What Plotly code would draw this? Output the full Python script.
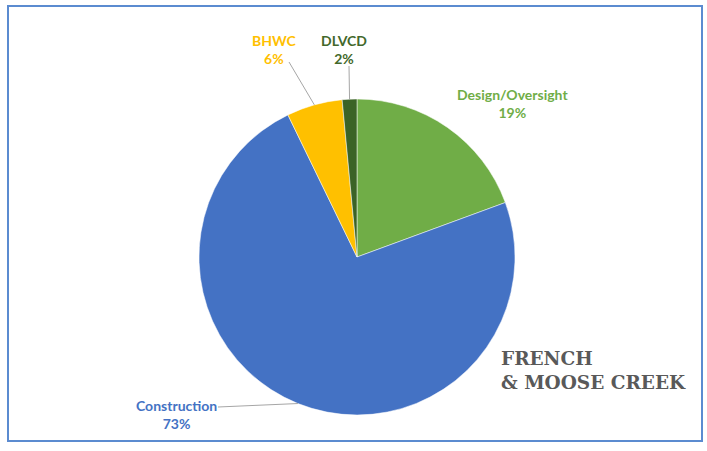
import math
import plotly.graph_objects as go

# Data
categories = ["Design/Oversight", "Construction", "BHWC", "DLVCD"]
values = [19.4, 73.4, 5.7, 1.5]
colors = ["#70AD47", "#4472C4", "#FFC000", "#3B6326"]
label_colors = ["#70AD47", "#4472C4", "#FFC000", "#43682B"]

W, H = 707, 451
CX, CY, R = 357, 257, 158

def px(x):
    return x / W

def py(y):
    return 1 - y / H

fig = go.Figure(go.Pie(
    labels=categories,
    values=values,
    sort=False,
    direction="clockwise",
    rotation=0,
    marker=dict(colors=colors, line=dict(color="white", width=0.5)),
    textinfo="none",
    hoverinfo="label+percent",
    showlegend=False,
    domain=dict(x=[px(CX - R), px(CX + R)], y=[py(CY + R), py(CY - R)]),
))

total = sum(values)
label_pos = {
    "Design/Oversight": (512, 103, False),
    "Construction": (176, 414, True),
    "BHWC": (274, 49, True),
    "DLVCD": (344, 49, True),
}
line_start = {
    "Construction": (218, 407),
    "BHWC": (289, 62),
    "DLVCD": (349, 66),
}

annotations = []
shapes = []
cum = 0.0
for cat, v, col in zip(categories, values, label_colors):
    mid = (cum + v / 2) / total * 2 * math.pi
    cum += v
    lx, ly, has_line = label_pos[cat]
    pct = round(v / total * 100)
    annotations.append(dict(
        x=px(lx), y=py(ly), xref="paper", yref="paper",
        text=f"<b>{cat}<br>{pct}%</b>", showarrow=False,
        font=dict(family="Lato", size=14, color=col),
        xanchor="center", yanchor="middle", align="center",
    ))
    if has_line:
        ex = CX + R * math.sin(mid)
        ey = CY - R * math.cos(mid)
        sx, sy = line_start[cat]
        shapes.append(dict(
            type="line", xref="paper", yref="paper",
            x0=px(sx), y0=py(sy), x1=px(ex), y1=py(ey),
            line=dict(color="#A6A6A6", width=1),
        ))

annotations.append(dict(
    x=px(499), y=py(346), xref="paper", yref="paper",
    text="<b>FRENCH<br>&amp; MOOSE CREEK</b>", showarrow=False,
    font=dict(family="DejaVu Serif", size=18.5, color="#595959"),
    xanchor="left", yanchor="top", align="left",
))

shapes.append(dict(
    type="rect", xref="paper", yref="paper",
    x0=px(8), y0=py(441), x1=px(702), y1=py(6),
    line=dict(color="#5B8BD0", width=2),
))

fig.update_layout(
    width=W, height=H,
    margin=dict(l=0, r=0, t=0, b=0),
    paper_bgcolor="white",
    plot_bgcolor="white",
    annotations=annotations,
    shapes=shapes,
)

fig.write_html("out.html", config={"displayModeBar": False},
               post_script="document.body.style.margin='0';")
